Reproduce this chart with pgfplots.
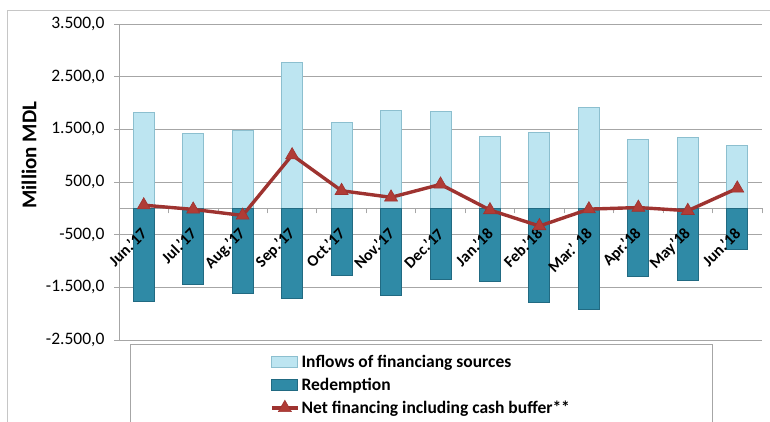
\documentclass[border=0pt]{standalone}
\usepackage{pgfplots}
\pgfplotsset{compat=1.18}
\usepackage{fontspec}
\setmainfont{Carlito}
\definecolor{inflowF}{HTML}{BDE5F1}
\definecolor{inflowD}{HTML}{8CBFCF}
\definecolor{redF}{HTML}{2F8AA6}
\definecolor{redD}{HTML}{216A82}
\definecolor{netline}{HTML}{9E3330}
\definecolor{netmark}{HTML}{B03C36}
\definecolor{gridc}{HTML}{A6A6A6}
\pgfplotsset{
  barleg/.style={legend image code/.code={\draw[##1] (0pt,-5.5pt) rectangle (26pt,5.5pt);}},
  lineleg/.style={legend image code/.code={\draw[##1, mark repeat=2, mark phase=2] plot coordinates {(0pt,0pt) (13pt,0pt) (26pt,0pt)};}},
}
\tikzset{xlab/.style={rotate=45, anchor=east, font=\bfseries\fontsize{16}{18}\selectfont, inner sep=1pt}}
\begin{document}
\begin{tikzpicture}[x=1pt,y=1pt]
\useasboundingbox (0,0) rectangle (770,421);
\clip (0,0) rectangle (770,421);
\draw[gray!45, line width=1pt] (7,-20) -- (7,410) -- (800,410);
\begin{axis}[
  at={(119pt,81pt)}, anchor=south west,
  scale only axis, width=643pt, height=316pt,
  xmin=-0.5, xmax=12.5, ymin=-2500, ymax=3500,
  axis x line=middle, axis y line=left,
  axis line style={-, draw=gridc, line width=0.8pt},
  ytick={-2500,-1500,...,3500},
  ymajorgrids, grid style={gridc, line width=0.8pt},
  major y tick style={draw=gridc, line width=0.8pt},
  ytick align=outside, major tick length=5pt,
  yticklabel style={font=\fontsize{17.5}{19}\selectfont, xshift=-6pt},
  /pgf/number format/.cd, fixed, fixed zerofill, precision=1, use comma, 1000 sep={.}, assume math mode=true,
  /pgfplots/.cd,
  xtick={0,...,12}, xticklabels={},
  major x tick style={draw=none},
  minor xtick={0.5,1.5,...,12.5},
  minor x tick style={draw=gridc, line width=0.8pt},
  xtick align=outside, minor tick length=5pt,
  ylabel={Million MDL},
  ylabel style={at={(axis description cs:-0.140,0.585)}, anchor=center, font=\bfseries\fontsize{21}{23}\selectfont},
  ybar, bar width=21pt,
  legend style={at={(axis description cs:0.4697,0)}, anchor=north, yshift=-4pt, draw=gridc, inner xsep=140pt, inner ysep=9pt, row sep=5pt, font=\bfseries\fontsize{17.5}{19}\selectfont, fill=white},
  legend cell align=left,
  clip=false,
]
\addplot[bar shift=0pt, fill=inflowF, draw=inflowD, line width=1pt, barleg]
  coordinates {(0,1820) (1,1425) (2,1480) (3,2760) (4,1625) (5,1865) (6,1846) (7,1372) (8,1447) (9,1909) (10,1310) (11,1347) (12,1188)};
\addlegendentry{Inflows of financiang sources}
\addplot[bar shift=0pt, fill=redF, draw=redD, line width=1pt, barleg]
  coordinates {(0,-1772) (1,-1455) (2,-1613) (3,-1721) (4,-1266) (5,-1664) (6,-1342) (7,-1398) (8,-1791) (9,-1930) (10,-1297) (11,-1373) (12,-791)};
\addlegendentry{Redemption}
\addplot[sharp plot, draw=netline, line width=3.4pt, mark=triangle*, mark size=7.5pt,
  mark options={fill=netmark, draw=netline, line width=0.6pt}, lineleg]
  coordinates {(0,60) (1,-20) (2,-135) (3,1011) (4,334) (5,209) (6,455) (7,-32) (8,-336) (9,-15) (10,15) (11,-45) (12,380)};
\addlegendentry{Net financing including cash buffer**}
\node[xlab] at ([xshift=1pt,yshift=-22pt]axis cs:0,0) {Jun.'17};
\node[xlab] at ([xshift=1pt,yshift=-22pt]axis cs:1,0) {Jul.'17};
\node[xlab] at ([xshift=1pt,yshift=-22pt]axis cs:2,0) {Aug.'17};
\node[xlab] at ([xshift=1pt,yshift=-22pt]axis cs:3,0) {Sep.'17};
\node[xlab] at ([xshift=1pt,yshift=-22pt]axis cs:4,0) {Oct.'17};
\node[xlab] at ([xshift=1pt,yshift=-22pt]axis cs:5,0) {Nov.'17};
\node[xlab] at ([xshift=1pt,yshift=-22pt]axis cs:6,0) {Dec.'17};
\node[xlab] at ([xshift=1pt,yshift=-22pt]axis cs:7,0) {Jan.'18};
\node[xlab] at ([xshift=1pt,yshift=-22pt]axis cs:8,0) {Feb.'18};
\node[xlab] at ([xshift=1pt,yshift=-22pt]axis cs:9,0) {Mar.' 18};
\node[xlab] at ([xshift=1pt,yshift=-22pt]axis cs:10,0) {Apr.'18};
\node[xlab] at ([xshift=1pt,yshift=-22pt]axis cs:11,0) {May'18};
\node[xlab] at ([xshift=1pt,yshift=-22pt]axis cs:12,0) {Jun.'18};
\end{axis}
\end{tikzpicture}
\end{document}
